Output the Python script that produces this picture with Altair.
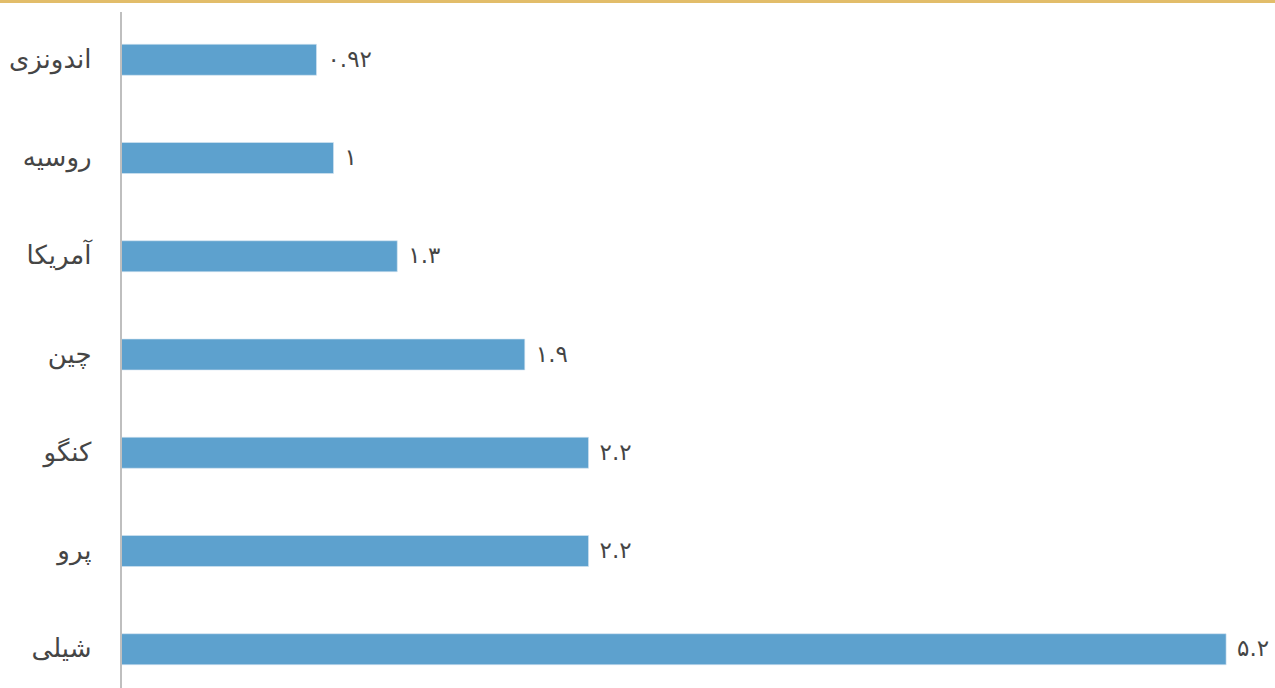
import altair as alt
import pandas as pd

countries = ["اندونزی", "روسیه", "آمریکا", "چین", "کنگو", "پرو", "شیلی"]
values = [0.92, 1.0, 1.3, 1.9, 2.2, 2.2, 5.2]
value_labels = ["۰.۹۲", "۱", "۱.۳", "۱.۹", "۲.۲", "۲.۲", "۵.۲"]

df = pd.DataFrame({"country": countries, "value": values, "label": value_labels})

W = 1154
H = 667
FONT = "DejaVu Sans"

x_enc = alt.X("value:Q", scale=alt.Scale(domain=[0, 5.43], nice=False, zero=True), axis=None)
y_enc = alt.Y(
    "country:N",
    sort=countries,
    scale=alt.Scale(paddingInner=0.6845, paddingOuter=0.2368),
    axis=alt.Axis(
        title=None, domain=False, ticks=False, grid=False,
        labelFont=FONT, labelFontSize=26, labelColor="#454545", labelPadding=30,
        labelFontWeight="normal",
    ),
)

bars = alt.Chart(df).mark_bar(color="#5DA1CE", stroke="#d6e6f2", strokeWidth=0.6).encode(x=x_enc, y=y_enc)

texts = alt.Chart(df).mark_text(
    align="left", baseline="middle", dx=11, font=FONT, fontSize=23, color="#454545"
).encode(x=x_enc, y=y_enc, text="label:N")

axis_line = alt.Chart(df).mark_rule(color="#BFBFBF", strokeWidth=2).encode(
    x=alt.value(0), y=alt.value(-9), y2=alt.value(H)
)

gold_line = alt.Chart(df).mark_rule(color="#E2BD6A", strokeWidth=3).encode(
    x=alt.value(-121), x2=alt.value(W), y=alt.value(-19.5)
)

chart = alt.layer(bars, texts, axis_line, gold_line).properties(
    width=W, height=H,
    autosize=alt.AutoSizeParams(type="none"),
    padding={"left": 121, "top": 21, "right": 0, "bottom": 0},
    background="white",
).configure_view(stroke=None)

chart.save("out.html", embed_options={"renderer": "svg", "actions": False})
